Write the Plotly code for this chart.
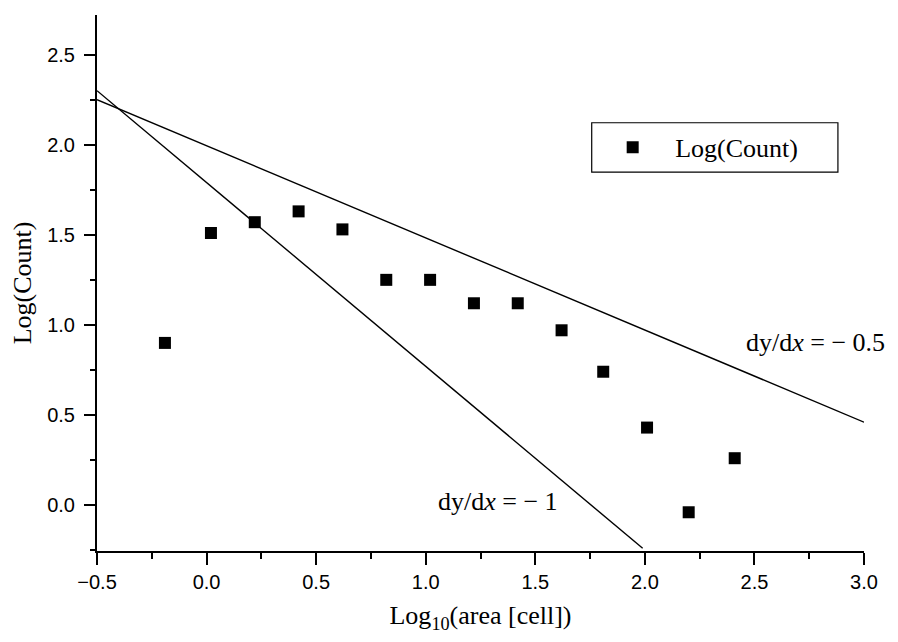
import plotly.graph_objects as go

# Data
log_area = [-0.19, 0.02, 0.22, 0.42, 0.62, 0.82, 1.02, 1.22, 1.42, 1.62, 1.81, 2.01, 2.20, 2.41]
log_count = [0.90, 1.51, 1.57, 1.63, 1.53, 1.25, 1.25, 1.12, 1.12, 0.97, 0.74, 0.43, -0.04, 0.26]

# Reference lines (slope -1 and slope -0.5)
steep_x = [-0.5, 1.99]
steep_y = [2.30, -0.24]
shallow_x = [-0.5, 3.0]
shallow_y = [2.25, 0.46]

x_ticks = [-0.5, 0.0, 0.5, 1.0, 1.5, 2.0, 2.5, 3.0]
y_ticks = [0.0, 0.5, 1.0, 1.5, 2.0, 2.5]

SERIF = "Liberation Serif, Times New Roman, serif"
SANS = "Liberation Sans, Arial, sans-serif"

fig = go.Figure()
fig.add_trace(go.Scatter(x=steep_x, y=steep_y, mode="lines",
                         line=dict(color="black", width=1.4), showlegend=False, hoverinfo="skip"))
fig.add_trace(go.Scatter(x=shallow_x, y=shallow_y, mode="lines",
                         line=dict(color="black", width=1.4), showlegend=False, hoverinfo="skip"))
fig.add_trace(go.Scatter(x=log_area, y=log_count, mode="markers", name="Log(Count)",
                         marker=dict(symbol="square", size=12, color="black")))

fig.add_annotation(x=2.78, y=0.90, xref="x", yref="y", text="dy/d<i>x</i> = − 0.5",
                   showarrow=False, font=dict(family=SERIF, size=26, color="black"))
fig.add_annotation(x=1.33, y=0.02, xref="x", yref="y", text="dy/d<i>x</i> = − 1",
                   showarrow=False, font=dict(family=SERIF, size=26, color="black"))

# legend frame
fig.add_shape(type="rect", xref="paper", yref="paper", x0=0.645, x1=0.966, y0=0.707, y1=0.799,
              line=dict(color="black", width=1.2), fillcolor="white", layer="below")

fig.update_layout(
    width=898, height=642,
    margin=dict(l=89, r=42, t=7, b=99),
    paper_bgcolor="white", plot_bgcolor="white",
    showlegend=True,
    legend=dict(x=0.643, y=0.753, xanchor="left", yanchor="middle",
                bgcolor="rgba(0,0,0,0)", borderwidth=0,
                font=dict(family=SERIF, size=26, color="black"), itemwidth=75),
    xaxis=dict(range=[-0.5, 3.0], tickvals=x_ticks, ticktext=[f"{v:.1f}".replace("-", "−") for v in x_ticks],
               showgrid=False, zeroline=False, showline=True, linecolor="black", linewidth=2,
               ticks="outside", ticklen=12, tickwidth=2, tickcolor="black",
               minor=dict(ticks="outside", ticklen=6, tickwidth=1.5, tickcolor="black", dtick=0.25),
               tickfont=dict(family=SANS, size=20, color="black"),
               title=dict(text="Log<sub>10</sub>(area [cell])", font=dict(family=SERIF, size=26, color="black"),
                          standoff=14)),
    yaxis=dict(range=[-0.255, 2.72], tickvals=y_ticks, ticktext=[f"{v:.1f}" for v in y_ticks],
               showgrid=False, zeroline=False, showline=True, linecolor="black", linewidth=2,
               ticks="outside", ticklen=11, tickwidth=2, tickcolor="black",
               minor=dict(ticks="outside", ticklen=5, tickwidth=1.5, tickcolor="black", dtick=0.25),
               tickfont=dict(family=SANS, size=20, color="black"), ticklabelstandoff=5,
               title=dict(text="Log(Count)", font=dict(family=SERIF, size=26, color="black"),
                          standoff=14)),
)

fig.write_html("out.html")
